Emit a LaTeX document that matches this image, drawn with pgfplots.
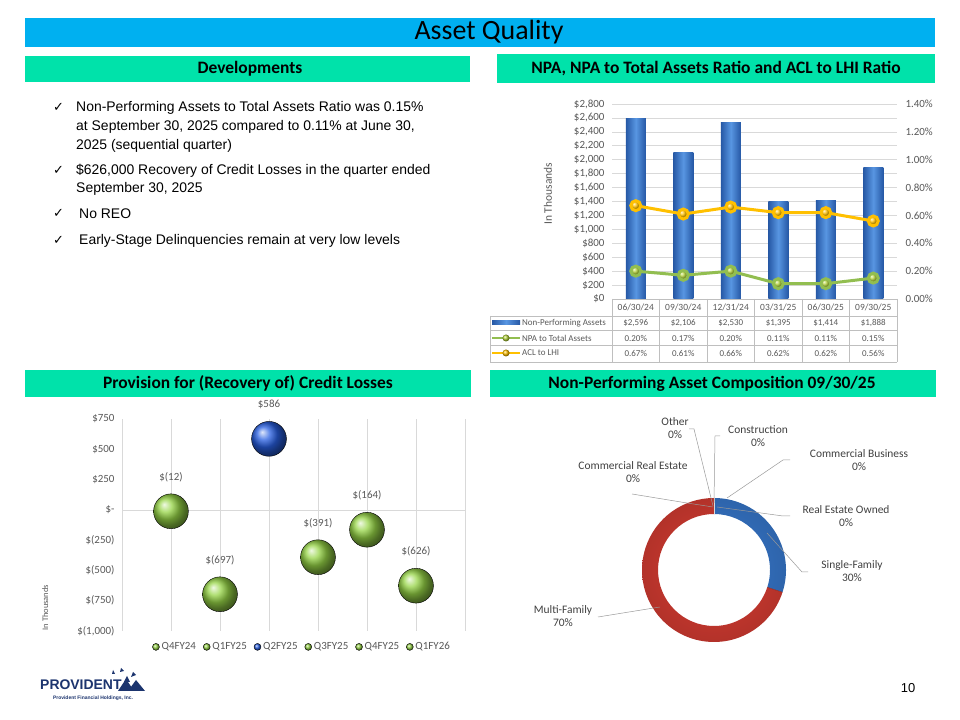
\documentclass[border=0pt]{standalone}
\usepackage{pgfplots}
\pgfplotsset{compat=1.18}
\usepackage{pgfplotstable}
\usepackage{fontspec}
\setmainfont{Carlito}
\newfontfamily\bodyfont{Liberation Sans}
\newfontfamily\symfont{DejaVu Sans}
\usetikzlibrary{plotmarks}

\definecolor{titleblue}{RGB}{0,176,240}
\definecolor{hdrgreen}{RGB}{0,226,170}
\definecolor{txtgray}{RGB}{89,89,89}
\definecolor{gridgray}{RGB}{217,217,217}
\definecolor{tblgray}{RGB}{191,191,191}
\definecolor{barbluedark}{RGB}{38,88,165}
\definecolor{barbluelight}{RGB}{88,150,226}
\definecolor{aclgold}{RGB}{255,192,0}
\definecolor{npagreen}{RGB}{146,190,80}
\definecolor{ballgreen}{RGB}{150,212,70}
\definecolor{ballblue}{RGB}{40,95,225}
\definecolor{ringred}{RGB}{214,60,50}
\definecolor{ringblue}{RGB}{55,120,205}
\definecolor{navy}{RGB}{28,52,110}

\pgfdeclareradialshading{ringR}{\pgfpointorigin}{color(0bp)=(ringred); color(38bp)=(ringred!75!black); color(41bp)=(ringred); color(45bp)=(ringred!85!white); color(48bp)=(ringred); color(50bp)=(ringred!75!black)}
\pgfdeclareradialshading{ringB}{\pgfpointorigin}{color(0bp)=(ringblue); color(38bp)=(ringblue!75!black); color(41bp)=(ringblue); color(45bp)=(ringblue!85!white); color(48bp)=(ringblue); color(50bp)=(ringblue!75!black)}

% NPA, NPA ratio, ACL ratio by quarter
\pgfplotstableread{
x npa ratio acl
0 2596 0.20 0.67
1 2106 0.17 0.61
2 2530 0.20 0.66
3 1395 0.11 0.62
4 1414 0.11 0.62
5 1888 0.15 0.56
}\npatable

% donut shares
\def\sfam{30}
\def\mfam{70}
\pgfmathsetmacro{\aA}{90-3.6*\sfam}
\pgfmathsetmacro{\aB}{\aA-3.6*\mfam}
\def\Ro{72}
\def\Ri{56}

\newcommand{\hdr}[1]{\fontsize{17.5}{19}\selectfont\bfseries #1}

\begin{document}
\begin{tikzpicture}[x=1bp,y=1bp]
\fill[white,use as bounding box] (0,0) rectangle (960,720);

% banners
\fill[titleblue] (25,702) rectangle (935,673);
\node[font=\fontsize{28}{30}\selectfont] at (489,687.5) {Asset Quality};
\fill[hdrgreen] (25,664) rectangle (470,638);
\node at (250,651) {\hdr{Developments}};
\fill[hdrgreen] (497,666) rectangle (935,637);
\node at (716,651.5) {\hdr{NPA, NPA to Total Assets Ratio and ACL to LHI Ratio}};
\fill[hdrgreen] (25,350) rectangle (471,323);
\node at (248,336.5) {\hdr{Provision for (Recovery of) Credit Losses}};
\fill[hdrgreen] (490,350) rectangle (936,323);
\node at (712,336.5) {\hdr{Non-Performing Asset Composition 09/30/25}};

% bullets
\begin{scope}[every node/.style={anchor=west,inner sep=0pt,font=\bodyfont\fontsize{14}{16}\selectfont}]
\node at (76,612) {Non-Performing Assets to Total Assets Ratio was 0.15\%};
\node at (76,593) {at September 30, 2025 compared to 0.11\% at June 30,};
\node at (76,574) {2025 (sequential quarter)};
\node at (76,549) {\$626,000 Recovery of Credit Losses in the quarter ended};
\node at (76,531) {September 30, 2025};
\node at (79,506) {No REO};
\node at (79,479) {Early-Stage Delinquencies remain at very low levels};
\end{scope}
\begin{scope}[every node/.style={anchor=west,inner sep=0pt,font=\symfont\fontsize{13}{14}\selectfont}]
\node at (53,613) {✓};
\node at (53,550) {✓};
\node at (53,507) {✓};
\node at (53,480) {✓};
\end{scope}

% ---------- NPA chart ----------
\begin{axis}[
  at={(612bp,421bp)}, anchor=south west,
  scale only axis, width=285bp, height=195bp,
  xmin=-0.5, xmax=5.5, ymin=0, ymax=2800,
  ytick={0,200,...,2800}, xtick=\empty,
  ymajorgrids, grid style={gridgray,line width=0.6pt},
  axis line style={draw=none}, tick style={draw=none},
  yticklabel={\$\pgfmathprintnumber{\tick}},
  /pgf/number format/1000 sep={,},
  /pgf/number format/assume math mode=true,
  yticklabel style={font=\fontsize{11}{12}\selectfont,text=txtgray,xshift=-4bp},
  ylabel={In Thousands},
  ylabel style={font=\fontsize{11.5}{13}\selectfont,text=txtgray,at={(axis description cs:-0.198,0.54)}},
]
\pgfplotsinvokeforeach{0,...,5}{
\addplot[ybar, bar width=20bp, bar shift=0pt, draw=none, left color=barbluedark, right color=barbluedark, middle color=barbluelight,
  restrict x to domain=#1:#1] table[x=x,y=npa]{\npatable};
}
\end{axis}
\begin{axis}[
  at={(612bp,421bp)}, anchor=south west,
  scale only axis, width=285bp, height=195bp,
  xmin=-0.5, xmax=5.5, ymin=0, ymax=1.4,
  axis x line=none, axis y line*=right,
  ytick={0,0.2,0.4,0.6,0.8,1.0,1.2,1.4},
  axis line style={draw=none}, tick style={draw=none},
  yticklabel={\pgfmathprintnumber[fixed,fixed zerofill,precision=2]{\tick}\%},
  /pgf/number format/assume math mode=true,
  yticklabel style={font=\fontsize{11}{12}\selectfont,text=txtgray,xshift=5bp},
]
\addplot[aclgold, line width=3bp, mark=ball, mark size=5, mark options={ball color=aclgold}] table[x=x,y=acl]{\npatable};
\addplot[npagreen, line width=3bp, mark=ball, mark size=5, mark options={ball color=npagreen!70!yellow}] table[x=x,y=ratio]{\npatable};
\end{axis}

% data table under the NPA chart
\begin{scope}[tblgray, line width=0.6pt]
\draw (612,421) -- (897,421);
\foreach \yy in {404,390,375,358} \draw (490,\yy) -- (897,\yy);
\draw (490,404) -- (490,358);
\foreach \xx in {612,659.5,707,754.5,802,849.5,897} \draw (\xx,421) -- (\xx,358);
\end{scope}
\begin{scope}[every node/.style={font=\fontsize{9}{10}\selectfont,text=txtgray,inner sep=0pt}]
\foreach \t [count=\i from 0] in {06/30/24,09/30/24,12/31/24,03/31/25,06/30/25,09/30/25}
  \node[font=\fontsize{9.5}{10}\selectfont] at (635.75+47.5*\i,413) {\t};
\foreach \t [count=\i from 0] in {{\$2,596},{\$2,106},{\$2,530},{\$1,395},{\$1,414},{\$1,888}}
  \node at (635.75+47.5*\i,397) {\t};
\foreach \t [count=\i from 0] in {0.20\%,0.17\%,0.20\%,0.11\%,0.11\%,0.15\%}
  \node at (635.75+47.5*\i,382) {\t};
\foreach \t [count=\i from 0] in {0.67\%,0.61\%,0.66\%,0.62\%,0.62\%,0.56\%}
  \node at (635.75+47.5*\i,367) {\t};
\node[anchor=west] at (522,397) {Non-Performing Assets};
\node[anchor=west] at (522,382) {NPA to Total Assets};
\node[anchor=west] at (522,367) {ACL to LHI};
\end{scope}
\shade[left color=barbluedark,right color=barbluedark,middle color=barbluelight] (492,395) rectangle (520,399.5);
\draw[npagreen,line width=2.5bp] (492,382) -- (520,382);
\shade[ball color=npagreen!70!yellow] (506,382) circle (3.5);
\draw[aclgold,line width=2.5bp] (492,367) -- (520,367);
\shade[ball color=aclgold] (506,367) circle (3.5);

% ---------- Provision chart ----------
\begin{axis}[
  at={(122bp,89bp)}, anchor=south west,
  scale only axis, width=343bp, height=212bp,
  xmin=0, xmax=7, ymin=-1000, ymax=750,
  xtick={0,...,7}, xticklabels={},
  xmajorgrids, grid style={gridgray,line width=0.6pt},
  ytick={-1000,-750,-500,-250,0,250,500,750},
  yticklabels={{\$(1,000)},{\$(750)},{\$(500)},{\$(250)},{\$-},{\$250},{\$500},{\$750}},
  yticklabel style={font=\fontsize{11}{12}\selectfont,text=txtgray,xshift=-4bp},
  axis line style={draw=none}, tick style={draw=none},
  clip=false,
  ylabel={In Thousands},
  ylabel style={font=\fontsize{8.5}{10}\selectfont,text=txtgray,at={(axis description cs:-0.205,0.11)}},
  legend style={at={(0.525,-0.075)}, anchor=center, draw=none, fill=none,
    legend columns=6, font=\fontsize{11}{12}\selectfont, text=txtgray,
    /tikz/every even column/.append style={column sep=5bp}},
  legend image post style={mark size=3.5},
  legend image code/.code={\draw[#1] plot coordinates {(0.15cm,0cm)};},
]
\draw[gridgray,line width=0.6pt] (axis cs:0,0) -- (axis cs:7,0);
\addplot[only marks, mark=ball, mark size=17.5, mark options={ball color=ballgreen}] coordinates {(1,-12)};
\addlegendentry{Q4FY24}
\addplot[only marks, mark=ball, mark size=17.5, mark options={ball color=ballgreen}] coordinates {(2,-697)};
\addlegendentry{Q1FY25}
\addplot[only marks, mark=ball, mark size=17.5, mark options={ball color=ballblue}] coordinates {(3,586)};
\addlegendentry{Q2FY25}
\addplot[only marks, mark=ball, mark size=17.5, mark options={ball color=ballgreen}] coordinates {(4,-391)};
\addlegendentry{Q3FY25}
\addplot[only marks, mark=ball, mark size=17.5, mark options={ball color=ballgreen}] coordinates {(5,-164)};
\addlegendentry{Q4FY25}
\addplot[only marks, mark=ball, mark size=17.5, mark options={ball color=ballgreen}] coordinates {(6,-626)};
\addlegendentry{Q1FY26}
\addplot[draw=none, mark=none, forget plot, point meta=explicit symbolic,
  nodes near coords,
  every node near coord/.append style={font=\fontsize{11}{12}\selectfont,text=txtgray,anchor=center,yshift=34bp}]
  coordinates {(1,-12) [\$(12)] (2,-697) [\$(697)] (3,586) [\$586] (4,-391) [\$(391)] (5,-164) [\$(164)] (6,-626) [\$(626)]};
\end{axis}

% ---------- Donut ----------
\begin{axis}[
  at={(614bp,50bp)}, anchor=south west,
  scale only axis, width=200bp, height=200bp,
  xmin=-100, xmax=100, ymin=-100, ymax=100,
  hide axis, clip=false,
]
\begin{scope}
\clip (axis cs:{\Ro*cos(90)},{\Ro*sin(90)}) arc[start angle=90, end angle=\aA, radius=\Ro]
  -- (axis cs:{\Ri*cos(\aA)},{\Ri*sin(\aA)}) arc[start angle=\aA, end angle=90, radius=\Ri] -- cycle;
\shade[shading=ringB] (axis cs:0,0) circle[radius=\Ro];
\end{scope}
\begin{scope}
\clip (axis cs:{\Ro*cos(\aA)},{\Ro*sin(\aA)}) arc[start angle=\aA, end angle=\aB, radius=\Ro]
  -- (axis cs:{\Ri*cos(\aB)},{\Ri*sin(\aB)}) arc[start angle=\aB, end angle=\aA, radius=\Ri] -- cycle;
\shade[shading=ringR] (axis cs:0,0) circle[radius=\Ro];
\end{scope}
\draw[ringred!60!black,line width=0.4pt] (axis cs:{\Ri*cos(\aA)},{\Ri*sin(\aA)}) -- (axis cs:{\Ro*cos(\aA)},{\Ro*sin(\aA)});
\draw[white!70!gray,line width=0.5pt] (axis cs:0,{\Ri}) -- (axis cs:0,{\Ro});
\end{axis}

% donut leader lines and labels
\begin{scope}[gray!80,line width=0.5pt]
\draw (689,291) -- (694,291) -- (713,214);
\draw (720,284) -- (715,284) -- (714,217);
\draw (790,260) -- (783,260) -- (727,222);
\draw (632,226) -- (687,217) -- (713,213);
\draw (790,204) -- (783,204) -- (717,213);
\draw (767,187) -- (802,148) -- (808,148);
\draw (598,103) -- (660,113);
\end{scope}
\begin{scope}[every node/.style={align=center,font=\fontsize{11.5}{13}\selectfont,text=black!75,inner sep=0pt}]
\node at (675,291.5) {Other\\0\%};
\node at (758,283.5) {Construction\\0\%};
\node at (859,259.5) {Commercial Business\\0\%};
\node at (633,247.5) {Commercial Real Estate\\0\%};
\node at (846,203.5) {Real Estate Owned\\0\%};
\node at (852,148.5) {Single-Family\\30\%};
\node at (563,103.5) {Multi-Family\\70\%};
\end{scope}

% logo and page number
\node[font=\bodyfont\bfseries\fontsize{14}{16}\selectfont,text=navy,inner sep=0pt,anchor=west] at (40,35) {PROVIDENT};
\node[font=\bodyfont\bfseries\fontsize{5}{6}\selectfont,text=navy,inner sep=0pt] at (93,22) {Provident Financial Holdings, Inc.};
\begin{scope}[navy]
\fill (118,29) -- (134,29) -- (126,41) -- cycle;
\fill (128,29) -- (145,29) -- (136,40) -- cycle;
\fill (124,38) -- (130,38) -- (127,44) -- cycle;
\fill (131,43) -- (136,45) -- (133,48) -- cycle;
\fill (120,48) -- (124,49) -- (121,52) -- cycle;
\fill (112,46) -- (115,46) -- (113,50) -- cycle;
\end{scope}
\node[font=\bodyfont\fontsize{13}{15}\selectfont] at (908,32) {10};
\end{tikzpicture}
\end{document}
